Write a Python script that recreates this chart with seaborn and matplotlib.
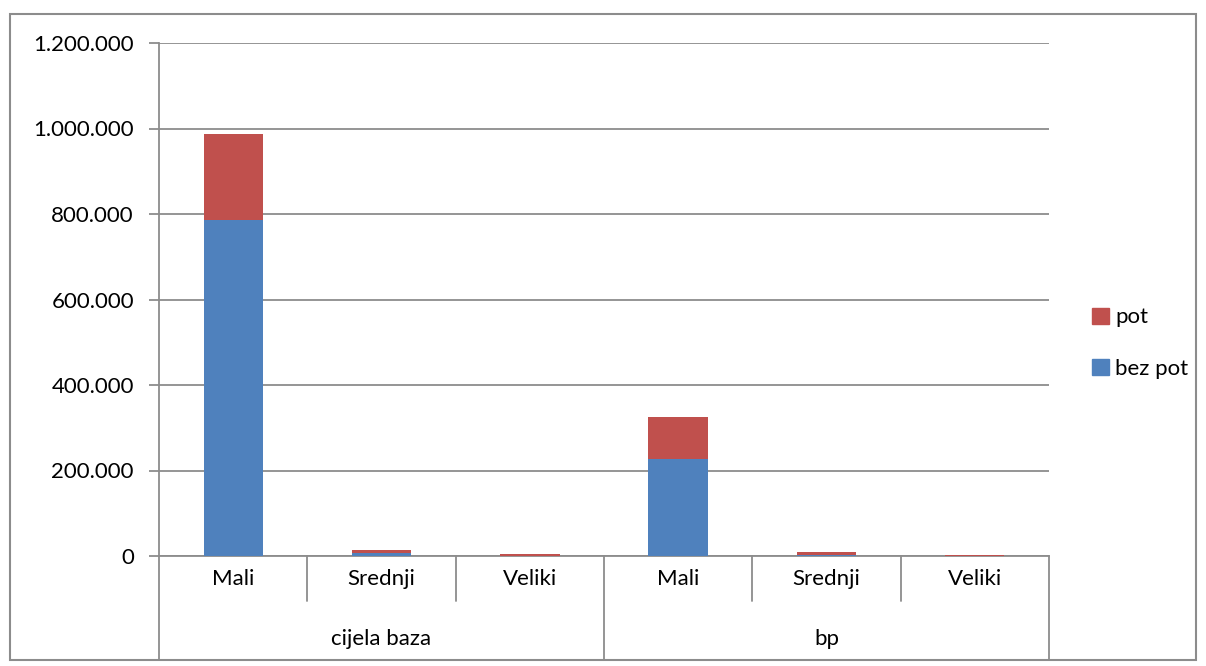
import matplotlib
matplotlib.use("Agg")
import matplotlib.pyplot as plt
import matplotlib.patches as mpatches
import matplotlib.transforms as mtransforms
from matplotlib.ticker import FuncFormatter
import seaborn as sns
import pandas as pd

groups = ["cijela baza", "cijela baza", "cijela baza", "bp", "bp", "bp"]
sizes = ["Mali", "Srednji", "Veliki", "Mali", "Srednji", "Veliki"]
bez_pot = [786000, 8000, 1000, 227000, 2000, 500]
pot = [201000, 7000, 3000, 97000, 8000, 2000]
series_names = ["pot", "bez pot"]
colors = {"pot": "#C0504D", "bez pot": "#4F81BD"}

keys = [f"{g}|{s}" for g, s in zip(groups, sizes)]
df = pd.DataFrame({"key": keys, "bez_pot": bez_pot, "pot": pot})
df["total"] = df["bez_pot"] + df["pot"]

sns.set_theme(style="white")
plt.rcParams["font.family"] = ["Lato", "DejaVu Sans"]
plt.rcParams["text.color"] = "black"
plt.rcParams["ytick.labelcolor"] = "black"

FS = 16

fig = plt.figure(figsize=(12.06, 6.66), dpi=100)
ax = fig.add_axes([159/1206, 1-556/666, (1049-159)/1206, (556-43)/666])

grid_c = "#8C8C8C"
sns.barplot(data=df, x="key", y="total", order=keys, color=colors["pot"],
            width=0.4, saturation=1, ax=ax, zorder=3)
sns.barplot(data=df, x="key", y="bez_pot", order=keys, color=colors["bez pot"],
            width=0.4, saturation=1, ax=ax, zorder=4)
for p in ax.patches:
    p.set_edgecolor("none")

ax.set_ylim(0, 1200000)
ax.set_xlim(-0.5, 5.5)
ax.set_yticks(range(0, 1200001, 200000))
ax.yaxis.set_major_formatter(FuncFormatter(lambda v, _: f"{int(v):,}".replace(",", ".")))
ax.yaxis.grid(True, color=grid_c, linewidth=1.3, zorder=0)
ax.set_axisbelow(True)
ax.tick_params(axis="y", length=7, width=1.3, color=grid_c, labelsize=FS, pad=11,
               left=True, labelcolor="black")
ax.set_xticks([])
ax.set_xlabel("")
ax.set_ylabel("")
for s in ["top", "right"]:
    ax.spines[s].set_visible(False)
ax.spines["left"].set_color(grid_c)
ax.spines["left"].set_linewidth(1.3)
ax.spines["bottom"].set_color(grid_c)
ax.spines["bottom"].set_linewidth(1.3)

trans = mtransforms.blended_transform_factory(ax.transData, ax.transAxes)
h_ax = 513
short_y = -(601 - 556) / h_ax
long_y = -(660 - 556) / h_ax
for xb in [0.5, 1.5, 3.5, 4.5]:
    ax.plot([xb, xb], [0, short_y], transform=trans, color=grid_c, lw=1.3, clip_on=False)
for xb in [-0.5, 2.5, 5.5]:
    ax.plot([xb, xb], [0, long_y], transform=trans, color=grid_c, lw=1.3, clip_on=False)
for i, s in enumerate(sizes):
    ax.text(i, -(579 - 556) / h_ax, s, transform=trans, ha="center", va="center",
            fontsize=FS, color="black")
for gi, g in enumerate(["cijela baza", "bp"]):
    ax.text(gi * 3 + 1, -(639 - 556) / h_ax, g, transform=trans, ha="center", va="center",
            fontsize=FS, color="black")

handles = [mpatches.Patch(color=colors[n], label=n) for n in series_names]
leg = fig.legend(handles=handles, loc="center left", bbox_to_anchor=(1072/1206, 1-343/666),
                 frameon=False, fontsize=FS, handlelength=0.75, handleheight=0.75,
                 handletextpad=0.3, labelspacing=1.4)
for t in leg.get_texts():
    t.set_color("black")

fig.patches.append(mpatches.Rectangle((10/1206, 1-660/666), (1196-10)/1206, (660-14)/666,
                                      transform=fig.transFigure, fill=False,
                                      edgecolor=grid_c, linewidth=1.5))

fig.savefig("out.png", dpi=100)
